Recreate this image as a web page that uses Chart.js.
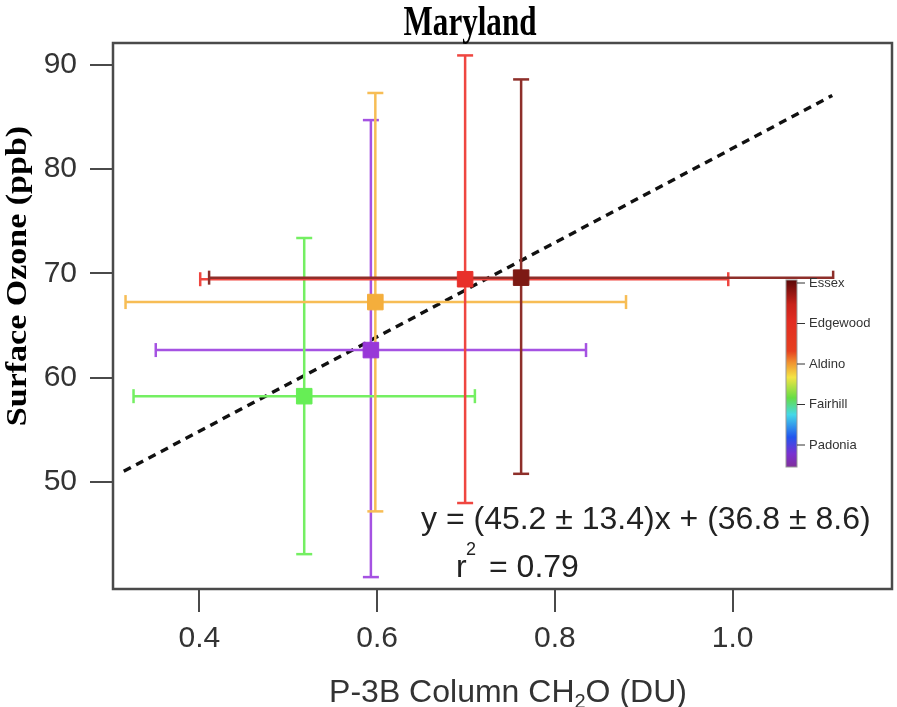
<!DOCTYPE html>
<html>
<head>
<meta charset="utf-8">
<title>Maryland</title>
<script src="https://cdn.jsdelivr.net/npm/chart.js@4/dist/chart.umd.min.js"></script>
<style>
  html, body { margin: 0; padding: 0; background: #fff; overflow: hidden; }
  canvas { display: block; }
</style>
</head>
<body>
<canvas id="chart" width="897" height="707"></canvas>
<script>
// Sites, in drawing order (Essex on top)
const sites = ['Essex', 'Edgewood', 'Aldino', 'Fairhill', 'Padonia'];
const markerColors = ['#7d1a14', '#e8302a', '#f4ae3c', '#66ee55', '#9838d8'];
const barColors = ['#8e2f2a', '#ef4640', '#f7bd55', '#74ef62', '#a552e2'];

// P-3B column CH2O (DU), mean and range
const ch2o = [0.762, 0.699, 0.598, 0.518, 0.593];
const ch2oLow = [0.411, 0.401, 0.317, 0.326, 0.351];
const ch2oHigh = [1.113, 0.995, 0.880, 0.710, 0.835];

// Surface ozone (ppb), mean and range
const ozone = [69.6, 69.45, 67.26, 58.24, 62.66];
const ozoneLow = [50.8, 48.0, 47.2, 43.1, 40.9];
const ozoneHigh = [88.6, 90.9, 87.3, 73.4, 84.7];

// regression fit
const fitSlope = 45.2;
const fitIntercept = 36.8;
const fitRange = [0.315, 1.112];
const fitLabel = 'y = (45.2 ± 13.4)x + (36.8 ± 8.6)';
const r2Label = '0.79';

const xTicks = [0.4, 0.6, 0.8, 1.0];
const yTicks = [50, 60, 70, 80, 90];

// colour bar, bottom to top
const legendSites = ['Padonia', 'Fairhill', 'Aldino', 'Edgewood', 'Essex'];

const SANS = '"Liberation Sans", Arial, sans-serif';
const SERIF = '"Liberation Serif", "Times New Roman", serif';

const datasets = [];

// dashed fit line
datasets.push({
    data: fitRange.map(x => ({ x: x, y: fitSlope * x + fitIntercept })),
    showLine: true,
    borderColor: '#111',
    borderWidth: 3.4,
    borderDash: [8, 6],
    pointRadius: 0,
    order: 3
});

// error bars
sites.forEach((s, i) => {
    datasets.push({
        data: [{ x: ch2oLow[i], y: ozone[i] }, { x: ch2oHigh[i], y: ozone[i] }],
        showLine: true,
        borderColor: barColors[i],
        borderWidth: 2.5,
        pointStyle: 'line',
        pointRotation: 90,
        pointRadius: 7,
        pointBorderWidth: 2.5,
        pointBorderColor: barColors[i],
        order: 2
    });
    datasets.push({
        data: [{ x: ch2o[i], y: ozoneLow[i] }, { x: ch2o[i], y: ozoneHigh[i] }],
        showLine: true,
        borderColor: barColors[i],
        borderWidth: 2.5,
        pointStyle: 'line',
        pointRotation: 0,
        pointRadius: 8,
        pointBorderWidth: 2.5,
        pointBorderColor: barColors[i],
        order: 2
    });
});

// site means
sites.forEach((s, i) => {
    datasets.push({
        label: s,
        data: [{ x: ch2o[i], y: ozone[i] }],
        pointStyle: 'rect',
        pointRadius: 11,
        pointBackgroundColor: markerColors[i],
        pointBorderColor: markerColors[i],
        pointBorderWidth: 1,
        order: 1
    });
});

const decor = {
    id: 'decor',
    beforeDatasetsDraw(chart) {
        const { ctx, chartArea: a } = chart;
        ctx.save();
        ctx.strokeStyle = '#4a4a4a';
        ctx.lineWidth = 2.5;
        ctx.strokeRect(a.left, a.top, a.right - a.left, a.bottom - a.top);
        ctx.restore();
    },
    afterDatasetsDraw(chart) {
        const ctx = chart.ctx;
        ctx.save();

        // colour bar
        ctx.fillStyle = '#fff';
        ctx.fillRect(775, 279, 110, 193);
        const top = 280, bottom = 467, bx = 786, bw = 11;
        const g = ctx.createLinearGradient(0, top, 0, bottom);
        g.addColorStop(0, '#5a0808');
        g.addColorStop(0.13, '#c8221a');
        g.addColorStop(0.22, '#e22c22');
        g.addColorStop(0.38, '#e6401f');
        g.addColorStop(0.44, '#f09030');
        g.addColorStop(0.52, '#f4e444');
        g.addColorStop(0.63, '#66dd44');
        g.addColorStop(0.72, '#44d8e8');
        g.addColorStop(0.84, '#2255ee');
        g.addColorStop(0.93, '#7a30d0');
        g.addColorStop(1, '#80309a');
        ctx.fillStyle = g;
        ctx.fillRect(bx, top, bw, bottom - top);
        ctx.strokeStyle = '#999';
        ctx.lineWidth = 1;
        ctx.strokeRect(bx, top, bw, bottom - top);

        ctx.font = '13px ' + SANS;
        ctx.fillStyle = '#333';
        ctx.strokeStyle = '#333';
        ctx.textBaseline = 'middle';
        ctx.textAlign = 'left';
        legendSites.forEach((s, i) => {
            const y = 445 - i * 40.5;
            ctx.beginPath();
            ctx.moveTo(bx + bw, y);
            ctx.lineTo(bx + bw + 8, y);
            ctx.stroke();
            ctx.fillText(s, bx + bw + 12, y);
        });

        // fit equation
        ctx.fillStyle = '#222';
        ctx.textBaseline = 'alphabetic';
        ctx.font = '32px ' + SANS;
        ctx.fillText(fitLabel, 421, 529);
        ctx.fillText('r', 456, 577);
        ctx.font = '18px ' + SANS;
        ctx.fillText('2', 466, 555);
        ctx.font = '32px ' + SANS;
        ctx.fillText('= ' + r2Label, 489, 577);
        ctx.restore();
    },
    afterDraw(chart) {
        const ctx = chart.ctx;
        ctx.save();
        ctx.fillStyle = '#000';

        // title
        ctx.font = 'bold 42px ' + SERIF;
        ctx.textAlign = 'center';
        ctx.textBaseline = 'alphabetic';
        ctx.save();
        ctx.translate(470, 35);
        ctx.scale(0.74, 1);
        ctx.fillText('Maryland', 0, 0);
        ctx.restore();

        // y axis title
        ctx.font = 'bold 34px ' + SERIF;
        ctx.textBaseline = 'middle';
        ctx.save();
        ctx.translate(19, 276);
        ctx.rotate(-Math.PI / 2);
        ctx.scale(1, 0.85);
        ctx.fillText('Surface Ozone (ppb)', 0, 0);
        ctx.restore();

        // x axis title with subscript
        ctx.fillStyle = '#333';
        ctx.textAlign = 'left';
        ctx.textBaseline = 'alphabetic';
        const big = '32px ' + SANS, small = '20px ' + SANS;
        const parts = [['P-3B Column CH', big, 0], ['2', small, 6], ['O (DU)', big, 0]];
        let w = 0;
        parts.forEach(p => { ctx.font = p[1]; w += ctx.measureText(p[0]).width; });
        let x = 508 - w / 2;
        parts.forEach(p => {
            ctx.font = p[1];
            ctx.fillText(p[0], x, 702 + p[2]);
            x += ctx.measureText(p[0]).width;
        });
        ctx.restore();
    }
};

function fixedTicks(values) {
    return scale => { scale.ticks = values.map(v => ({ value: v })); };
}

new Chart(document.getElementById('chart'), {
    type: 'scatter',
    data: { datasets: datasets },
    options: {
        responsive: false,
        animation: false,
        events: [],
        layout: { autoPadding: false, padding: { left: 0, right: 5, top: 43, bottom: 0 } },
        plugins: {
            legend: { display: false },
            tooltip: { enabled: false },
            title: { display: false }
        },
        scales: {
            x: {
                type: 'linear',
                min: 0.3029,
                max: 1.1792,
                afterBuildTicks: fixedTicks(xTicks),
                afterFit: scale => {
                    scale.height = 118;
                    scale.paddingLeft = 0;
                    scale.paddingRight = 0;
                },
                border: { display: false },
                grid: {
                    drawOnChartArea: false,
                    drawTicks: true,
                    tickLength: 23,
                    color: '#4a4a4a',
                    lineWidth: 2
                },
                ticks: {
                    padding: 9,
                    color: '#333',
                    font: { family: SANS, size: 30 },
                    maxRotation: 0,
                    callback: v => v.toFixed(1)
                }
            },
            y: {
                type: 'linear',
                min: 39.76,
                max: 92.09,
                afterBuildTicks: fixedTicks(yTicks),
                afterFit: scale => {
                    scale.width = 113;
                    scale.paddingTop = 0;
                    scale.paddingBottom = 0;
                },
                border: { display: false },
                grid: {
                    drawOnChartArea: false,
                    drawTicks: true,
                    tickLength: 23,
                    color: '#4a4a4a',
                    lineWidth: 2
                },
                ticks: {
                    padding: 13,
                    color: '#333',
                    font: { family: SANS, size: 30 },
                    callback: v => String(v)
                }
            }
        }
    },
    plugins: [decor]
});
</script>
</body>
</html>
